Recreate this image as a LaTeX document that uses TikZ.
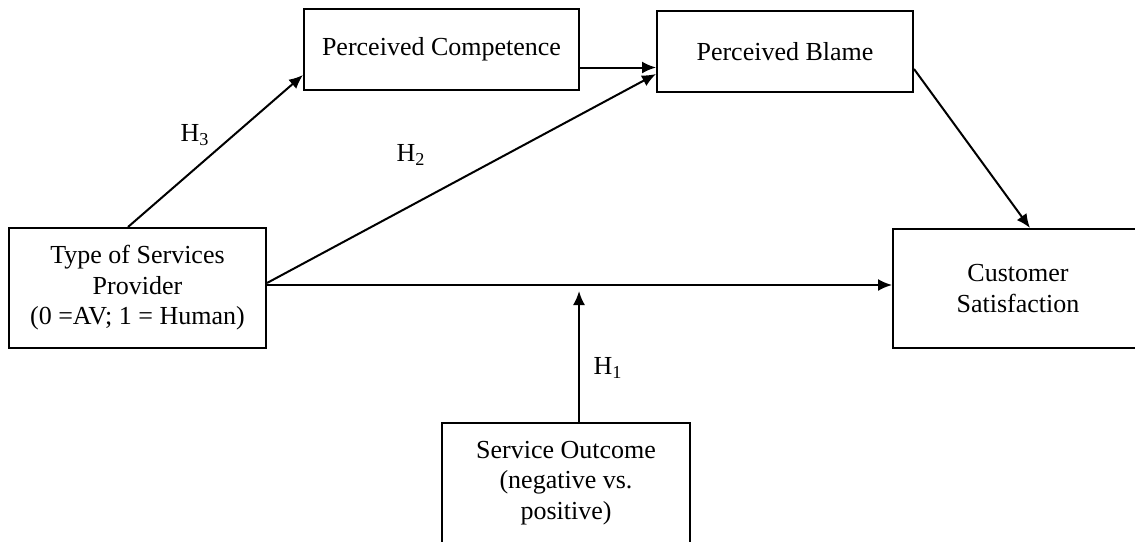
\documentclass[tikz,border=0pt]{standalone}
\usepackage{fontspec}
\setmainfont{Liberation Serif}
\usetikzlibrary{arrows.meta}
\tikzset{
  box/.style={draw, line width=1pt, rectangle, inner sep=0pt, align=center,
    font=\fontsize{13}{15.3}\selectfont},
  arr/.style={line width=1pt, -{Latex[length=7pt,width=6pt]}},
  lab/.style={font=\fontsize{13}{15.3}\selectfont, inner sep=0pt}
}
\begin{document}
\begin{tikzpicture}[x=0.5pt,y=-0.5pt]
\useasboundingbox (0,0) rectangle (1135,541);
\clip (0,0) rectangle (1135,541);
\fill[white] (0,0) rectangle (1135,541);
\node[box, minimum width=137.5pt, minimum height=40.5pt] (pc) at (441.5,49.5) {Perceived Competence};
\node[box, minimum width=128pt, minimum height=40.5pt] (pb) at (785,51.5) {Perceived Blame};
\node[box, minimum width=128.5pt, minimum height=60pt] (tsp) at (137.5,288) {Type of Services\\Provider\\(0 =AV; 1 = Human)};
\node[box, minimum width=125pt, minimum height=59.5pt] (cs) at (1018,288.5) {Customer\\Satisfaction};
\node[box, minimum width=124pt, minimum height=60pt] (so) at (566,483) {Service Outcome\\(negative vs.\\positive)};
\coordinate (h1tip) at (579,291);
\draw[arr] ([xshift=-4.75pt]tsp.north) -- ([yshift=-12.75pt]pc.west);
\draw[arr] ([yshift=-9pt]pc.east) -- ([yshift=-9pt]pc.east -| pb.west);
\draw[arr] ([yshift=2.5pt]tsp.east) -- ([yshift=-11.25pt]pb.west);
\draw[arr] ([yshift=1.5pt]tsp.east) -- ([yshift=1.5pt]tsp.east -| cs.west);
\draw[arr] ([yshift=-8.75pt]pb.east) -- ([xshift=6pt]cs.north);
\draw[arr] (so.north -| h1tip) -- (h1tip);
\node[lab] (h3) at (195,135) {H\textsubscript{3}};
\node[lab] (h2) at (411,155) {H\textsubscript{2}};
\node[lab] (h1) at (608,368) {H\textsubscript{1}};
\end{tikzpicture}
\end{document}
